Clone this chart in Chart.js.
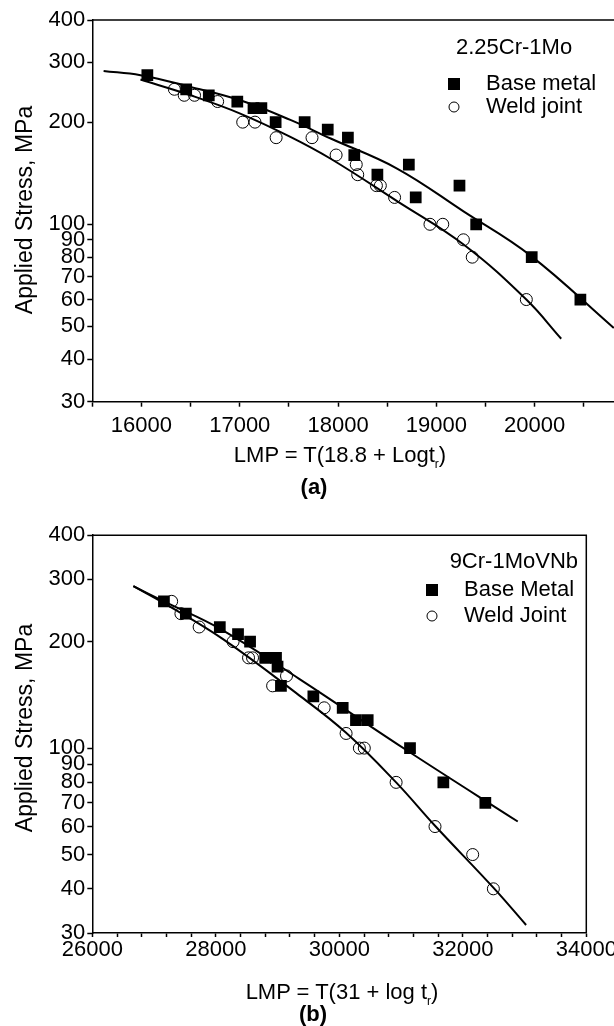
<!DOCTYPE html>
<html>
<head>
<meta charset="utf-8">
<script src="https://cdn.jsdelivr.net/npm/chart.js@4.4.0/dist/chart.umd.min.js"></script>
<style>
  html, body { margin: 0; padding: 0; background: #fff; overflow: hidden; }
  body { width: 614px; height: 1026px; position: relative; font-family: "Liberation Sans", Arial, sans-serif; color: #000; }
  canvas { position: absolute; left: 0; }
  .t { position: absolute; white-space: nowrap; font-size: 22px; line-height: 1; transform: translate(-50%, -50%); }
  .rot { transform: translate(-50%, -50%) rotate(-90deg); font-size: 23px; }
  .b { font-weight: bold; font-size: 22px; }
  sub { font-size: 12px; vertical-align: -6px; line-height: 0; }
</style>
</head>
<body>
<canvas id="chartA" width="640" height="445" style="top:0"></canvas>
<canvas id="chartB" width="640" height="460" style="top:520px"></canvas>

<div class="t rot" style="left:24px; top:210px">Applied Stress, MPa</div>
<div class="t" style="left:340px; top:455px">LMP = T(18.8 + Logt<sub>r</sub>)</div>
<div class="t b" style="left:314px; top:487px">(a)</div>

<div class="t rot" style="left:24px; top:728px">Applied Stress, MPa</div>
<div class="t" style="left:342px; top:992px">LMP = T(31 + log t<sub>r</sub>)</div>
<div class="t b" style="left:313px; top:1014px">(b)</div>

<script>
// (a) 2.25Cr-1Mo
var aBaseLmp = [16060, 16455, 16685, 16975, 17140, 17220, 17365, 17660, 17895, 18100, 18165, 18400, 18720, 18790, 19235, 19405, 19970, 20465];
var aBaseStress = [275, 250, 240, 230, 220, 220, 200, 200, 190, 180, 160, 140, 150, 120, 130, 100, 80, 60];
var aWeldLmp = [16335, 16435, 16540, 16775, 17030, 17155, 17370, 17735, 17980, 18185, 18200, 18390, 18430, 18575, 18935, 19065, 19275, 19365, 19915];
var aWeldStress = [250, 240, 240, 230, 200, 200, 180, 180, 160, 150, 140, 130, 130, 120, 100, 100, 90, 80, 60];
var aBaseFitLmp = [15615, 15990, 16500, 17005, 17515, 17925, 18600, 19280, 19955, 20805];
var aBaseFitStress = [283, 275, 254, 232, 203, 179, 146, 109, 81, 49.5];
var aWeldFitLmp = [15990, 16500, 17005, 17515, 17925, 18600, 19280, 19915, 20270];
var aWeldFitStress = [267, 240, 212, 181, 156, 117, 87, 60, 46];

// (b) 9Cr-1MoVNb
var bBaseLmp = [27160, 27515, 28065, 28360, 28555, 28800, 28975, 29000, 29055, 29580, 30055, 30270, 30460, 31145, 31685, 32365];
var bBaseStress = [260, 240, 220, 210, 200, 180, 180, 170, 150, 140, 130, 120, 120, 100, 80, 70];
var bWeldLmp = [27285, 27435, 27730, 28280, 28530, 28595, 28920, 29145, 29755, 30110, 30325, 30405, 30920, 31550, 32160, 32495];
var bWeldStress = [260, 240, 220, 200, 180, 180, 150, 160, 130, 110, 100, 100, 80, 60, 50, 40];
var bBaseFitLmp = [26665, 27160, 28100, 29350, 31135, 32890];
var bBaseFitStress = [287, 260, 216, 157, 97.5, 62];
var bWeldFitLmp = [26665, 27160, 28105, 29350, 30110, 30920, 31550, 32495, 33025];
var bWeldFitStress = [287, 257, 204, 141, 110.5, 80, 60.3, 40.3, 31.6];

var stressTicks = [30, 40, 50, 60, 70, 80, 90, 100, 200, 300, 400];
var aLmpTicks = [15500, 16000, 16500, 17000, 17500, 18000, 18500, 19000, 19500, 20000, 20500];
var bLmpTicks = [];
for (var t = 26000; t <= 34000; t += 400) bLmpTicks.push(t);

var FONT = '"Liberation Sans", Arial, sans-serif';

function pts(xs, ys) {
    return xs.map(function (x, i) { return { x: x, y: ys[i] }; });
}

var framePlugin = {
    id: 'frame',
    afterDraw: function (chart, args, opts) {
        var ctx = chart.ctx, a = chart.chartArea, L = opts.legend;
        ctx.save();
        ctx.strokeStyle = '#000';
        ctx.lineWidth = 1.5;
        ctx.beginPath();
        ctx.moveTo(a.left, a.top);
        ctx.lineTo(a.right, a.top);
        if (opts.right) ctx.lineTo(a.right, a.bottom);
        ctx.stroke();

        ctx.fillStyle = '#000';
        ctx.font = '22px ' + FONT;
        ctx.textBaseline = 'middle';
        ctx.textAlign = L.titleAlign;
        ctx.fillText(L.title, L.titleX, L.titleY);
        ctx.textAlign = 'left';
        ctx.fillRect(L.markX - 6, L.baseY - 6, 12, 12);
        ctx.fillText(L.base, L.textX, L.baseY);
        ctx.lineWidth = 1;
        ctx.beginPath();
        ctx.arc(L.markX, L.weldY, 5, 0, 2 * Math.PI);
        ctx.stroke();
        ctx.fillText(L.weld, L.textX, L.weldY);
        ctx.restore();
    }
};

function makeChart(id, d) {
    var tickGrid = {
        display: true, drawOnChartArea: false, drawTicks: true,
        tickLength: d.tickLen, tickWidth: 1.5, tickColor: '#000'
    };
    return new Chart(document.getElementById(id), {
        type: 'scatter',
        data: {
            datasets: [
                { type: 'line', data: pts(d.baseFitX, d.baseFitY), borderColor: '#000', borderWidth: 2,
                  pointRadius: 0, tension: 0.4, fill: false },
                { type: 'line', data: pts(d.weldFitX, d.weldFitY), borderColor: '#000', borderWidth: 2,
                  pointRadius: 0, tension: 0.4, fill: false },
                { data: pts(d.baseX, d.baseY), pointStyle: 'rect', pointRadius: 8.3,
                  backgroundColor: '#000', borderColor: '#000', borderWidth: 0 },
                { data: pts(d.weldX, d.weldY), pointStyle: 'circle', pointRadius: 6,
                  backgroundColor: 'rgba(0,0,0,0)', borderColor: '#000', borderWidth: 1 }
            ]
        },
        options: {
            responsive: false,
            animation: false,
            layout: { padding: { top: d.padTop, right: d.padRight, left: 0, bottom: 0 } },
            plugins: {
                legend: { display: false },
                tooltip: { enabled: false },
                frame: { right: d.rightBorder, legend: d.legend }
            },
            scales: {
                x: {
                    type: 'linear', min: d.xMin, max: d.xMax,
                    border: { display: true, color: '#000', width: 1.5 },
                    grid: tickGrid,
                    afterBuildTicks: function (s) { s.ticks = d.xTicks.map(function (v) { return { value: v }; }); },
                    afterFit: function (s) { s.height = d.xHeight; },
                    ticks: {
                        autoSkip: false, maxRotation: 0, padding: d.xPad, color: '#000',
                        font: { family: FONT, size: 22 },
                        callback: function (v) { return v % d.xLabelStep === 0 ? String(v) : ''; }
                    }
                },
                y: {
                    type: 'logarithmic', min: 30, max: d.yMax,
                    border: { display: true, color: '#000', width: 1.5 },
                    grid: { display: true, drawOnChartArea: false, drawTicks: true,
                            tickLength: 5, tickWidth: 1.5, tickColor: '#000' },
                    afterBuildTicks: function (s) { s.ticks = stressTicks.map(function (v) { return { value: v }; }); },
                    afterFit: function (s) { s.width = 92.3; },
                    ticks: {
                        autoSkip: false, padding: 2, color: '#000',
                        font: { family: FONT, size: 22 },
                        callback: function (v) { return String(v); }
                    }
                }
            }
        },
        plugins: [framePlugin]
    });
}

makeChart('chartA', {
    baseX: aBaseLmp, baseY: aBaseStress, weldX: aWeldLmp, weldY: aWeldStress,
    baseFitX: aBaseFitLmp, baseFitY: aBaseFitStress, weldFitX: aWeldFitLmp, weldFitY: aWeldFitStress,
    xMin: 15500, xMax: 20810, yMax: 400, xTicks: aLmpTicks, xLabelStep: 1000,
    padTop: 20, padRight: 25.7, xHeight: 43.3, xPad: 6, tickLen: 5, rightBorder: false,
    legend: { title: '2.25Cr-1Mo', titleAlign: 'left', titleX: 456, titleY: 48,
              base: 'Base metal', weld: 'Weld joint', markX: 454, textX: 486, baseY: 84, weldY: 107 }
});

makeChart('chartB', {
    baseX: bBaseLmp, baseY: bBaseStress, weldX: bWeldLmp, weldY: bWeldStress,
    baseFitX: bBaseFitLmp, baseFitY: bBaseFitStress, weldFitX: bWeldFitLmp, weldFitY: bWeldFitStress,
    xMin: 26000, xMax: 34000, yMax: 400, xTicks: bLmpTicks, xLabelStep: 2000,
    padTop: 15, padRight: 53.7, xHeight: 47, xPad: 0, tickLen: 4, rightBorder: true,
    legend: { title: '9Cr-1MoVNb', titleAlign: 'right', titleX: 578, titleY: 42,
              base: 'Base Metal', weld: 'Weld Joint', markX: 432, textX: 464, baseY: 70, weldY: 96 }
});
</script>
</body>
</html>
